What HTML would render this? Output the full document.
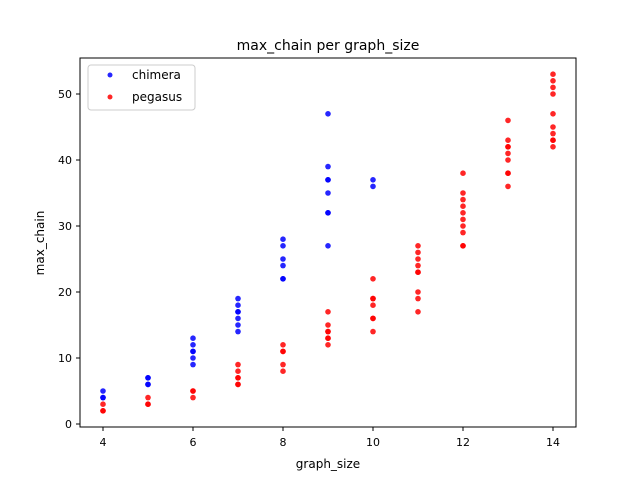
<!DOCTYPE html>
<html><head><meta charset="utf-8"><style>
body{margin:0;background:#fff;font-family:"Liberation Sans","DejaVu Sans",sans-serif}
</style></head><body>
<svg id="chart" width="640" height="480" xmlns="http://www.w3.org/2000/svg" font-family="DejaVu Sans, Liberation Sans, sans-serif">
<rect width="640" height="480" fill="#fff"/>
<text x="328" y="50" text-anchor="middle" font-size="14">max_chain per graph_size</text>
<text x="328" y="468" text-anchor="middle" font-size="12">graph_size</text>
<text transform="translate(44,243) rotate(-90)" text-anchor="middle" font-size="12">max_chain</text>
<g id="marks"></g>
<g id="axes"></g>
<rect x="80" y="58" width="496" height="369" fill="none" stroke="#000" stroke-width="1"/>
<g>
<rect x="88" y="65" width="107" height="45" rx="3" fill="#fff" fill-opacity="0.8" stroke="#ccc"/>
<circle cx="110" cy="75" r="2.5" fill="#00f" fill-opacity="0.85"/>
<text x="132" y="79" font-size="12">chimera</text>
<circle cx="110" cy="97" r="2.5" fill="#f00" fill-opacity="0.85"/>
<text x="132" y="101" font-size="12">pegasus</text>
</g>
</svg>
<script>
const chimeraX=[4,4,4,5,5,5,5,6,6,6,6,6,6,7,7,7,7,7,7,7,8,8,8,8,8,8,9,9,9,9,9,9,9,9,10,10];
const chimeraY=[5,4,4,7,7,6,6,13,12,11,10,9,11,19,18,17,16,15,14,17,28,27,25,24,22,22,47,39,37,37,35,32,32,27,37,36];
const pegasusX=[4,4,4,5,5,5,6,6,6,7,7,7,7,7,7,8,8,8,8,8,9,9,9,9,9,9,9,10,10,10,10,10,10,10,11,11,11,11,11,11,11,11,11,12,12,12,12,12,12,12,12,12,12,13,13,13,13,13,13,13,13,13,14,14,14,14,14,14,14,14,14,14];
const pegasusY=[3,2,2,4,3,3,5,5,4,9,8,7,7,6,6,12,11,9,8,11,17,15,14,13,12,14,13,22,19,19,18,16,16,14,27,26,25,24,23,20,19,17,23,38,35,34,33,32,31,30,29,27,27,46,43,42,42,41,40,38,38,36,53,52,51,50,47,45,44,43,43,42];
const xTicks=[4,6,8,10,12,14];
const yTicks=[0,10,20,30,40,50];
const NS="http://www.w3.org/2000/svg";
function sx(v){return 103+(v-4)*45;}
function sy(v){return 424-v*6.6;}
const marks=document.getElementById('marks');
function draw(xs,ys,color,name){
  xs.forEach((x,i)=>{
    const c=document.createElementNS(NS,'circle');
    c.setAttribute('cx',sx(x));c.setAttribute('cy',sy(ys[i]));c.setAttribute('r',2.8);
    c.setAttribute('fill',color);c.setAttribute('fill-opacity','0.85');
    
    
    marks.appendChild(c);
  });
}
draw(chimeraX,chimeraY,'#00f','chimera-point');
draw(pegasusX,pegasusY,'#f00','pegasus-point');
const axes=document.getElementById('axes');
xTicks.forEach(t=>{
  const l=document.createElementNS(NS,'line');
  l.setAttribute('x1',sx(t));l.setAttribute('x2',sx(t));l.setAttribute('y1',427);l.setAttribute('y2',431);l.setAttribute('stroke','#000');
  
  
  axes.appendChild(l);
  const tx=document.createElementNS(NS,'text');
  tx.setAttribute('x',sx(t));tx.setAttribute('y',446);tx.setAttribute('text-anchor','middle');tx.setAttribute('font-size','11');
  tx.textContent=t;
  
  
  axes.appendChild(tx);
});
yTicks.forEach(t=>{
  const l=document.createElementNS(NS,'line');
  l.setAttribute('x1',76);l.setAttribute('x2',80);l.setAttribute('y1',sy(t));l.setAttribute('y2',sy(t));l.setAttribute('stroke','#000');
  
  
  axes.appendChild(l);
  const tx=document.createElementNS(NS,'text');
  tx.setAttribute('x',72);tx.setAttribute('y',sy(t)+4);tx.setAttribute('text-anchor','end');tx.setAttribute('font-size','11');
  tx.textContent=t;
  
  
  axes.appendChild(tx);
});
</script>
</body></html>
